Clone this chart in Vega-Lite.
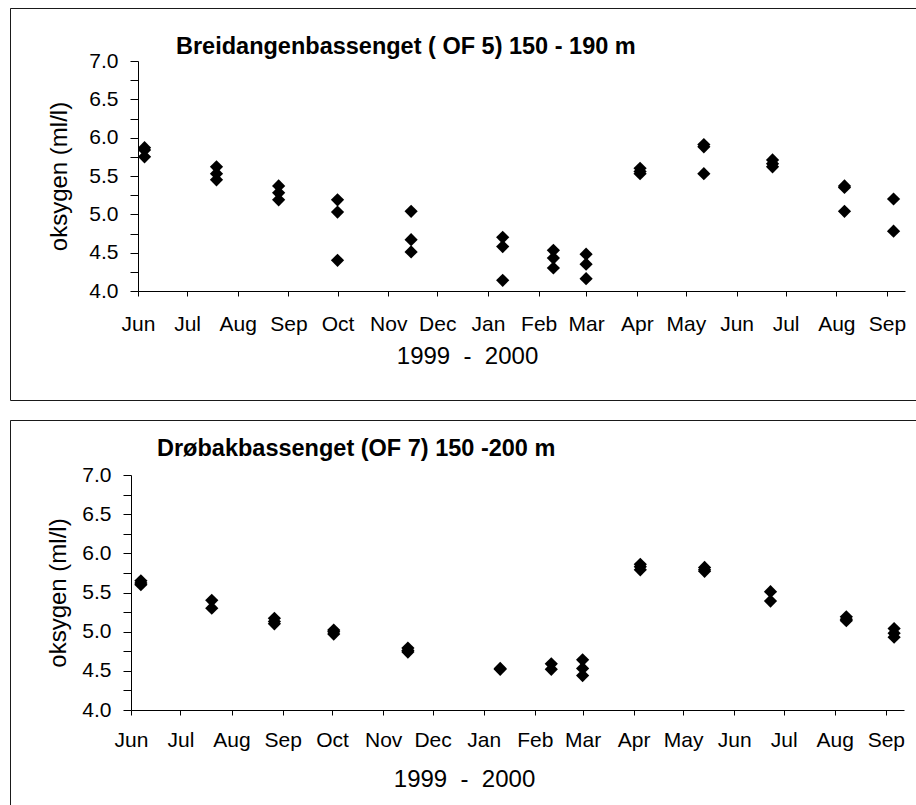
{
  "$schema": "https://vega.github.io/schema/vega-lite/v6.json",
  "padding": {"left": 9, "top": 7, "right": 0, "bottom": 0},
  "autosize": {"type": "pad"},
  "background": "white",
  "config": {
    "font": "Liberation Sans",
    "axis": {
      "labelFont": "Liberation Sans",
      "titleFont": "Liberation Sans",
      "labelColor": "#000",
      "titleColor": "#000",
      "domainColor": "#000",
      "tickColor": "#000",
      "grid": false,
      "labelFontSize": 21,
      "titleFontSize": 24,
      "titleFontWeight": "normal",
      "labelOverlap": false,
      "labelFlush": false
    },
    "title": {
      "font": "Liberation Sans",
      "fontSize": 23.5,
      "fontWeight": "bold",
      "color": "#000",
      "anchor": "start",
      "frame": "group",
      "baseline": "alphabetic"
    },
    "concat": {"spacing": 18}
  },
  "data": {
    "values": [
      {"station": "OF 5", "date": "1999-06-05", "oksygen": 5.87},
      {"station": "OF 5", "date": "1999-06-05", "oksygen": 5.84},
      {"station": "OF 5", "date": "1999-06-05", "oksygen": 5.75},
      {"station": "OF 5", "date": "1999-07-19", "oksygen": 5.62},
      {"station": "OF 5", "date": "1999-07-19", "oksygen": 5.53},
      {"station": "OF 5", "date": "1999-07-19", "oksygen": 5.45},
      {"station": "OF 5", "date": "1999-08-26", "oksygen": 5.37},
      {"station": "OF 5", "date": "1999-08-26", "oksygen": 5.28},
      {"station": "OF 5", "date": "1999-08-26", "oksygen": 5.19},
      {"station": "OF 5", "date": "1999-10-01", "oksygen": 5.19},
      {"station": "OF 5", "date": "1999-10-01", "oksygen": 5.03},
      {"station": "OF 5", "date": "1999-10-01", "oksygen": 4.40},
      {"station": "OF 5", "date": "1999-11-15", "oksygen": 5.04},
      {"station": "OF 5", "date": "1999-11-15", "oksygen": 4.67},
      {"station": "OF 5", "date": "1999-11-15", "oksygen": 4.51},
      {"station": "OF 5", "date": "2000-01-10", "oksygen": 4.70},
      {"station": "OF 5", "date": "2000-01-10", "oksygen": 4.58},
      {"station": "OF 5", "date": "2000-01-10", "oksygen": 4.14},
      {"station": "OF 5", "date": "2000-02-10", "oksygen": 4.53},
      {"station": "OF 5", "date": "2000-02-10", "oksygen": 4.43},
      {"station": "OF 5", "date": "2000-02-10", "oksygen": 4.30},
      {"station": "OF 5", "date": "2000-03-01", "oksygen": 4.48},
      {"station": "OF 5", "date": "2000-03-01", "oksygen": 4.35},
      {"station": "OF 5", "date": "2000-03-01", "oksygen": 4.16},
      {"station": "OF 5", "date": "2000-04-03", "oksygen": 5.60},
      {"station": "OF 5", "date": "2000-04-03", "oksygen": 5.56},
      {"station": "OF 5", "date": "2000-04-03", "oksygen": 5.53},
      {"station": "OF 5", "date": "2000-05-12", "oksygen": 5.91},
      {"station": "OF 5", "date": "2000-05-12", "oksygen": 5.88},
      {"station": "OF 5", "date": "2000-05-12", "oksygen": 5.53},
      {"station": "OF 5", "date": "2000-06-23", "oksygen": 5.71},
      {"station": "OF 5", "date": "2000-06-23", "oksygen": 5.66},
      {"station": "OF 5", "date": "2000-06-23", "oksygen": 5.62},
      {"station": "OF 5", "date": "2000-08-06", "oksygen": 5.37},
      {"station": "OF 5", "date": "2000-08-06", "oksygen": 5.35},
      {"station": "OF 5", "date": "2000-08-06", "oksygen": 5.04},
      {"station": "OF 5", "date": "2000-09-05", "oksygen": 5.20},
      {"station": "OF 5", "date": "2000-09-05", "oksygen": 4.78},

      {"station": "OF 7", "date": "1999-06-07", "oksygen": 5.65},
      {"station": "OF 7", "date": "1999-06-07", "oksygen": 5.62},
      {"station": "OF 7", "date": "1999-06-07", "oksygen": 5.60},
      {"station": "OF 7", "date": "1999-07-20", "oksygen": 5.40},
      {"station": "OF 7", "date": "1999-07-20", "oksygen": 5.30},
      {"station": "OF 7", "date": "1999-08-27", "oksygen": 5.17},
      {"station": "OF 7", "date": "1999-08-27", "oksygen": 5.13},
      {"station": "OF 7", "date": "1999-08-27", "oksygen": 5.10},
      {"station": "OF 7", "date": "1999-10-02", "oksygen": 5.02},
      {"station": "OF 7", "date": "1999-10-02", "oksygen": 5.00},
      {"station": "OF 7", "date": "1999-10-02", "oksygen": 4.97},
      {"station": "OF 7", "date": "1999-11-16", "oksygen": 4.79},
      {"station": "OF 7", "date": "1999-11-16", "oksygen": 4.76},
      {"station": "OF 7", "date": "1999-11-16", "oksygen": 4.74},
      {"station": "OF 7", "date": "2000-01-11", "oksygen": 4.53},
      {"station": "OF 7", "date": "2000-01-11", "oksygen": 4.52},
      {"station": "OF 7", "date": "2000-02-11", "oksygen": 4.59},
      {"station": "OF 7", "date": "2000-02-11", "oksygen": 4.52},
      {"station": "OF 7", "date": "2000-03-01", "oksygen": 4.64},
      {"station": "OF 7", "date": "2000-03-01", "oksygen": 4.53},
      {"station": "OF 7", "date": "2000-03-01", "oksygen": 4.44},
      {"station": "OF 7", "date": "2000-04-05", "oksygen": 5.86},
      {"station": "OF 7", "date": "2000-04-05", "oksygen": 5.83},
      {"station": "OF 7", "date": "2000-04-05", "oksygen": 5.79},
      {"station": "OF 7", "date": "2000-05-14", "oksygen": 5.82},
      {"station": "OF 7", "date": "2000-05-14", "oksygen": 5.79},
      {"station": "OF 7", "date": "2000-05-14", "oksygen": 5.77},
      {"station": "OF 7", "date": "2000-06-23", "oksygen": 5.51},
      {"station": "OF 7", "date": "2000-06-23", "oksygen": 5.39},
      {"station": "OF 7", "date": "2000-08-08", "oksygen": 5.19},
      {"station": "OF 7", "date": "2000-08-08", "oksygen": 5.16},
      {"station": "OF 7", "date": "2000-08-08", "oksygen": 5.14},
      {"station": "OF 7", "date": "2000-09-06", "oksygen": 5.04},
      {"station": "OF 7", "date": "2000-09-06", "oksygen": 4.98},
      {"station": "OF 7", "date": "2000-09-06", "oksygen": 4.93}
    ]
  },
  "vconcat": [
    {
      "width": 906,
      "height": 392,
      "view": {"stroke": "#1a1a1a", "strokeWidth": 1, "strokeDash": [906, 392, 1298]},
      "title": {"text": "Breidangenbassenget ( OF 5) 150 - 190 m", "dx": 166, "offset": -50},
      "transform": [{"filter": "datum.station === 'OF 5'"}],
      "mark": {"type": "point", "shape": "diamond", "filled": true, "size": 175, "color": "#000", "opacity": 1},
      "encoding": {
        "x": {
          "field": "date",
          "type": "temporal",
          "scale": {
            "type": "utc",
            "domain": [{"year": 1999, "month": 6, "date": 1, "utc": true}, {"year": 2000, "month": 9, "date": 12, "utc": true}],
            "range": [128, 895],
            "nice": false
          },
          "axis": {
            "orient": "bottom",
            "offset": -109,
            "tickCount": {"interval": "month", "step": 1},
            "labelExpr": "utcFormat(datum.value, '%b')",
            "tickSize": 5,
            "labelBaseline": "alphabetic",
            "labelPadding": 34,
            "title": "1999\u00a0\u00a0-\u00a0\u00a02000",
            "titleX": 457,
            "titleY": 72,
            "titleAlign": "center",
            "titleBaseline": "alphabetic"
          }
        },
        "y": {
          "field": "oksygen",
          "type": "quantitative",
          "scale": {"domain": [4, 7], "range": [283, 53], "nice": false, "zero": false},
          "axis": {
            "orient": "left",
            "offset": -128,
            "values": [4, 4.25, 4.5, 4.75, 5, 5.25, 5.5, 5.75, 6, 6.25, 6.5, 6.75, 7],
            "labelExpr": "datum.value * 2 % 1 == 0 ? format(datum.value, '.1f') : ''",
            "tickSize": 8,
            "labelPadding": 12,
            "title": "oksygen (ml/l)",
            "titleAngle": -90,
            "titleX": -72,
            "titleBaseline": "alphabetic"
          }
        }
      }
    },
    {
      "width": 906,
      "height": 387,
      "view": {"stroke": "#1a1a1a", "strokeWidth": 1, "strokeDash": [906, 1293, 387]},
      "title": {"text": "Drøbakbassenget (OF 7) 150 -200 m", "dx": 147, "offset": -40},
      "transform": [{"filter": "datum.station === 'OF 7'"}],
      "mark": {"type": "point", "shape": "diamond", "filled": true, "size": 175, "color": "#000", "opacity": 1},
      "encoding": {
        "x": {
          "field": "date",
          "type": "temporal",
          "scale": {
            "type": "utc",
            "domain": [{"year": 1999, "month": 6, "date": 1, "utc": true}, {"year": 2000, "month": 9, "date": 12, "utc": true}],
            "range": [121, 894],
            "nice": false
          },
          "axis": {
            "orient": "bottom",
            "offset": -97,
            "tickCount": {"interval": "month", "step": 1},
            "labelExpr": "utcFormat(datum.value, '%b')",
            "tickSize": 5,
            "labelBaseline": "alphabetic",
            "labelPadding": 31,
            "title": "1999\u00a0\u00a0-\u00a0\u00a02000",
            "titleX": 454,
            "titleY": 76,
            "titleAlign": "center",
            "titleBaseline": "alphabetic"
          }
        },
        "y": {
          "field": "oksygen",
          "type": "quantitative",
          "scale": {"domain": [4, 7], "range": [290, 55], "nice": false, "zero": false},
          "axis": {
            "orient": "left",
            "offset": -121,
            "values": [4, 4.25, 4.5, 4.75, 5, 5.25, 5.5, 5.75, 6, 6.25, 6.5, 6.75, 7],
            "labelExpr": "datum.value * 2 % 1 == 0 ? format(datum.value, '.1f') : ''",
            "tickSize": 8,
            "labelPadding": 12,
            "title": "oksygen (ml/l)",
            "titleAngle": -90,
            "titleX": -66,
            "titleBaseline": "alphabetic"
          }
        }
      }
    }
  ]
}
